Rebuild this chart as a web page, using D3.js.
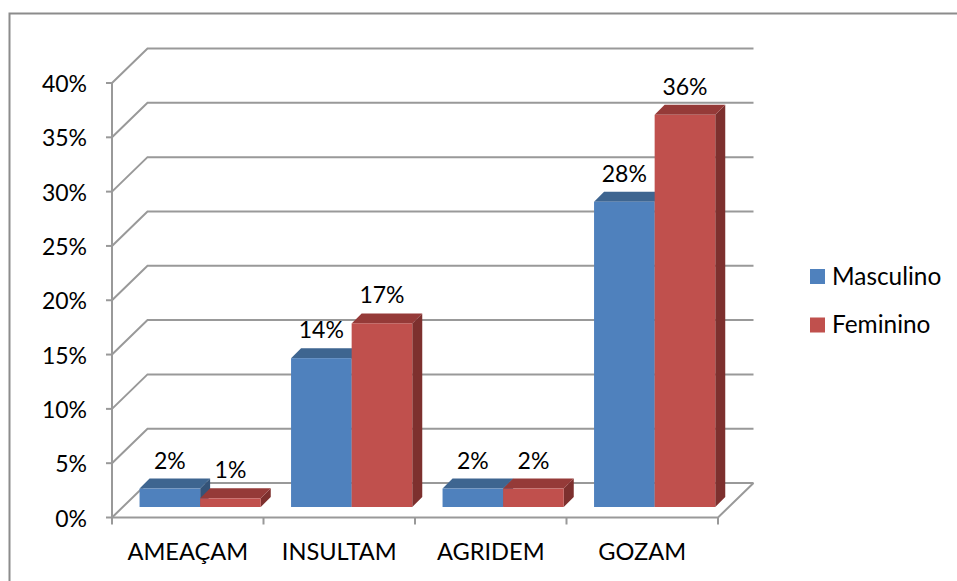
<!DOCTYPE html>
<html><head><meta charset="utf-8">
<script src="https://cdn.jsdelivr.net/npm/d3@7"></script>
<style>html,body{margin:0;padding:0;background:#fff}svg{display:block}text{font-family:Lato,"Open Sans",sans-serif;font-size:23px;fill:#000}</style>
</head><body><svg id="c" width="957" height="581"></svg>
<script>
const categories = ["AMEAÇAM","INSULTAM","AGRIDEM","GOZAM"];
const seriesNames = ["Masculino","Feminino"];
const masculino = [0.017,0.137,0.017,0.281];
const feminino = [0.008,0.169,0.017,0.361];
const yTicks = [0,.05,.1,.15,.2,.25,.3,.35,.4];
const colors = {front:["#4f81bd","#c0504d"],top:["#3e6590","#953a38"],side:["#345378","#7d302e"]};
const grid = "#999";

const svg = d3.select("#c");
const W=957,H=581;
const x = d3.scaleBand(categories,[112,718]).paddingInner(.2).paddingOuter(.1);
const y = d3.scaleLinear([0,.4],[517.5,83]);
const back = {dx:35.5,dy:-34.5};
const depth = {gapX:12.4,gapY:10.5,dx:10,dy:10};

svg.append("path").attr("d",`M9.5,${H}V13.5H${W}`).attr("fill","none").attr("stroke","#8c8c8c").attr("stroke-width",2);

const g = svg.append("g").attr("fill","none").attr("stroke",grid).attr("stroke-width",2);
yTicks.forEach(t=>{
  const yy=y(t);
  g.append("path").attr("d",`M${x.range()[0]},${yy}L${x.range()[0]+back.dx},${yy+back.dy}H${x.range()[1]+back.dx}`);
  g.append("path").attr("d",`M${x.range()[0]-6},${yy}H${x.range()[0]}`);
});
g.append("path").attr("d",`M${x.range()[0]},${y(.4)}V${y(0)}`);
g.append("path").attr("d",`M${x.range()[0]},${y(0)}H${x.range()[1]}L${x.range()[1]+back.dx},${y(0)+back.dy}`);
const step=x.step();
d3.range(5).forEach(i=>{
  const xx=x.range()[0]+i*step;
  g.append("path").attr("d",`M${xx},${y(0)}v7`);
});

const bw=x.bandwidth()/2;
const base=y(0)-depth.gapY;
const bars=[];
categories.forEach((c,i)=>{
  [masculino,feminino].forEach((s,k)=>bars.push({c,k,v:s[i]}));
});
const bg=svg.append("g");
bars.forEach(b=>{
  const x0=x(b.c)+depth.gapX+b.k*bw, h=y(0)-y(b.v), top=base-h;
  const {dx,dy}=depth;
  bg.append("path").attr("fill",colors.side[b.k]).attr("d",`M${x0+bw},${top}l${dx},${-dy}V${base-dy}l${-dx},${dy}Z`);
  bg.append("path").attr("fill",colors.top[b.k]).attr("d",`M${x0},${top}l${dx},${-dy}h${bw}l${-dx},${dy}Z`);
  bg.append("rect").attr("x",x0).attr("y",top).attr("width",bw).attr("height",h).attr("fill",colors.front[b.k]);
  svg.append("text").attr("x",x0+bw/2).attr("y",top-dy-10).attr("text-anchor","middle").text(d3.format(".0%")(b.v));
});

yTicks.forEach(t=>{
  svg.append("text").attr("x",87).attr("y",y(t)+9).attr("text-anchor","end").text(d3.format(".0%")(t));
});
categories.forEach(c=>{
  svg.append("text").attr("x",x(c)+x.bandwidth()/2).attr("y",560).attr("text-anchor","middle").style("font-size","23.6px").text(c);
});
seriesNames.forEach((n,i)=>{
  const ly=d3.scalePoint(seriesNames,[276.5,325])(n);
  svg.append("rect").attr("x",810).attr("y",ly-7.5).attr("width",15).attr("height",15).attr("fill",colors.front[i]);
  svg.append("text").attr("x",832).attr("y",ly+8).style("font-size","24.4px").text(n);
});
</script></body></html>
